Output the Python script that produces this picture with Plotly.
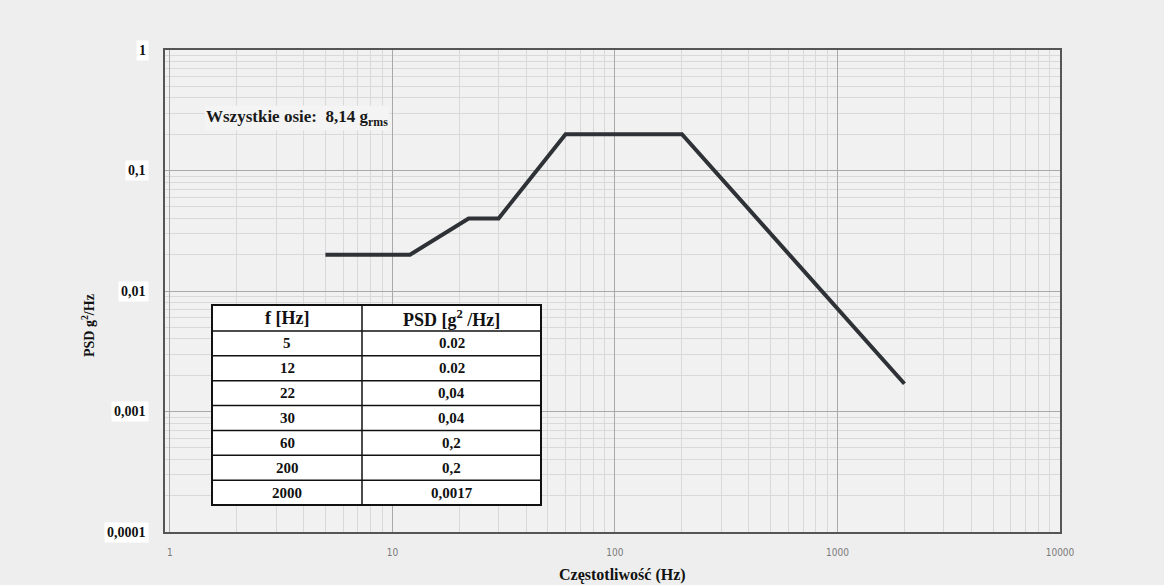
import math
import plotly.graph_objects as go

# ---- data ----
freq_hz = [5, 12, 22, 30, 60, 200, 2000]
psd_values = [0.02, 0.02, 0.04, 0.04, 0.2, 0.2, 0.0017]
table_freq_labels = ["5", "12", "22", "30", "60", "200", "2000"]
table_psd_labels = ["0.02", "0.02", "0,04", "0,04", "0,2", "0,2", "0,0017"]
table_headers = ["f [Hz]", "PSD [g<sup>2</sup> /Hz]"]
y_tick_vals = [1, 0.1, 0.01, 0.001, 0.0001]
y_tick_text = ["1", "0,1", "0,01", "0,001", "0,0001"]

SERIF = "Liberation Serif, Times New Roman, serif"

W, H = 1164, 585
L, R, T, B = 165, 104, 50, 53
pw, ph = W - L - R, H - T - B


def px_x(x):
    return (x - L) / pw


def px_y(y):
    return (H - B - y) / ph


fig = go.Figure()

fig.add_trace(go.Scatter(
    x=freq_hz, y=psd_values, mode="lines",
    line=dict(color="#2e3236", width=4),
    showlegend=False, hoverinfo="skip",
))

annotations = []
shapes = []

# ---- table (drawn with shapes + text) ----
tx0, tx1, tmid = 212, 541, 362
ty0, thead = 305, 331
row_h = (505 - thead) / len(table_freq_labels)
ty1 = thead + row_h * len(table_freq_labels)

shapes.append(dict(type="rect", xref="paper", yref="paper",
                   x0=px_x(tx0), x1=px_x(tx1), y0=px_y(ty1), y1=px_y(ty0),
                   fillcolor="white", line=dict(color="#111", width=2), layer="above"))
shapes.append(dict(type="line", xref="paper", yref="paper",
                   x0=px_x(tmid), x1=px_x(tmid), y0=px_y(ty1), y1=px_y(ty0),
                   line=dict(color="#111", width=1.5), layer="above"))
row_edges = [thead + i * row_h for i in range(len(table_freq_labels))]
for yy in row_edges:
    shapes.append(dict(type="line", xref="paper", yref="paper",
                       x0=px_x(tx0), x1=px_x(tx1), y0=px_y(yy), y1=px_y(yy),
                       line=dict(color="#111", width=1.5), layer="above"))

c1 = (tx0 + tmid) / 2
c2 = (tmid + tx1) / 2
for cx, h in zip([c1, c2], table_headers):
    annotations.append(dict(
        x=px_x(cx), y=px_y((ty0 + thead) / 2), xref="paper", yref="paper",
        xanchor="center", yanchor="middle",
        text=f"<b>{h}</b>", showarrow=False,
        font=dict(family=SERIF, size=18, color="#111")))
for i, (f, p) in enumerate(zip(table_freq_labels, table_psd_labels)):
    cy = thead + (i + 0.5) * row_h
    for cx, t in ((c1, f), (c2, p)):
        annotations.append(dict(
            x=px_x(cx), y=px_y(cy), xref="paper", yref="paper",
            xanchor="center", yanchor="middle",
            text=f"<b>{t}</b>", showarrow=False,
            font=dict(family=SERIF, size=15, color="#111")))

# ---- y tick labels with white boxes ----
for v, t in zip(y_tick_vals, y_tick_text):
    annotations.append(dict(
        x=0, xref="paper", xshift=-16, xanchor="right",
        y=math.log10(v), yref="y", yanchor="middle",
        text=f"<b>{t}</b>", showarrow=False,
        font=dict(family=SERIF, size=14, color="#111"),
        bgcolor="white", borderpad=2,
    ))

annotations.append(dict(
    x=px_x(204), xref="paper", xanchor="left",
    y=px_y(118), yref="paper", yanchor="middle",
    text="<b>Wszystkie osie:  8,14 g<sub>rms</sub></b>", showarrow=False,
    font=dict(family=SERIF, size=17, color="#1a1a1a"),
    bgcolor="#f4f4f4",
))
annotations.append(dict(
    x=px_x(88), xref="paper", y=px_y(326), yref="paper",
    xanchor="center", yanchor="middle",
    text="<b>PSD g<sup>2</sup>/Hz</b>", showarrow=False, textangle=-90,
    font=dict(family=SERIF, size=14, color="#111"),
))
annotations.append(dict(
    x=px_x(622), xref="paper", y=px_y(575), yref="paper",
    xanchor="center", yanchor="middle",
    text="<b>Częstotliwość (Hz)</b>", showarrow=False,
    font=dict(family=SERIF, size=16, color="#111"),
))

fig.update_layout(
    width=W, height=H,
    margin=dict(l=L, r=R, t=T, b=B),
    paper_bgcolor="#eeeeee", plot_bgcolor="#f1f1f1",
    annotations=annotations, shapes=shapes,
    xaxis=dict(
        type="log", range=[-0.022, 4.0],
        tickmode="linear", tick0=0, dtick=1, tickformat="d",
        tickfont=dict(family="DejaVu Sans Condensed, DejaVu Sans", size=10, color="#7a7a7a"),
        ticks="", ticklabelstandoff=10,
        showgrid=True, gridcolor="#a9a9a9", gridwidth=1,
        minor=dict(dtick="D1", showgrid=True, gridcolor="#d9d9d9", gridwidth=1, ticks=""),
        showline=True, linecolor="#555", linewidth=1.5, mirror=True,
        zeroline=False,
    ),
    yaxis=dict(
        type="log", range=[-4, 0],
        tickmode="linear", tick0=0, dtick=1, showticklabels=False,
        ticks="",
        showgrid=True, gridcolor="#a9a9a9", gridwidth=1,
        minor=dict(dtick="D1", showgrid=True, gridcolor="#d9d9d9", gridwidth=1, ticks=""),
        showline=True, linecolor="#555", linewidth=1.5, mirror=True,
        zeroline=False,
    ),
)

fig.write_html(
    "out.html",
    config={"displayModeBar": False},
    post_script="document.body.style.margin='0';document.body.style.background='#eeeeee';",
)
